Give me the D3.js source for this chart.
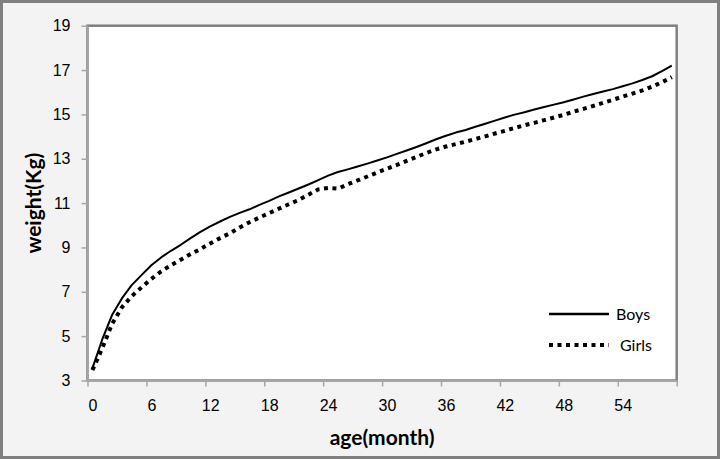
<!DOCTYPE html>
<html>
<head>
<meta charset="utf-8">
<script src="https://cdn.jsdelivr.net/npm/d3@7"></script>
<style>
  html, body { margin: 0; padding: 0; background: #fff; }
  svg { display: block; font-family: Lato, "Open Sans", sans-serif; }
  .axis text { font-size: 16px; fill: #000; }
  .title { font-size: 21px; font-weight: bold; }
  .legend text { font-size: 16px; }
</style>
</head>
<body>
<svg id="chart" width="720" height="459"></svg>
<script>
// months 0..59
const months = d3.range(0, 60);

const boys = [
  3.55, 4.85, 5.95, 6.70, 7.30, 7.75, 8.20, 8.55, 8.85, 9.12,
  9.42, 9.70, 9.95, 10.17, 10.38, 10.56, 10.72, 10.92, 11.10, 11.30,
  11.48, 11.66, 11.84, 12.04, 12.24, 12.40, 12.52, 12.65, 12.78, 12.92,
  13.06, 13.22, 13.37, 13.53, 13.70, 13.88, 14.04, 14.18, 14.30, 14.44,
  14.58, 14.72, 14.86, 14.99, 15.10, 15.22, 15.33, 15.44, 15.55, 15.67,
  15.80, 15.92, 16.03, 16.14, 16.27, 16.40, 16.55, 16.72, 16.95, 17.20
];

const girls = [
  3.47, 4.45, 5.55, 6.30, 6.80, 7.20, 7.58, 7.92, 8.20, 8.45,
  8.70, 8.93, 9.18, 9.42, 9.64, 9.90, 10.14, 10.35, 10.55, 10.75,
  10.95, 11.14, 11.38, 11.62, 11.68, 11.65, 11.85, 12.02, 12.20, 12.38,
  12.55, 12.72, 12.90, 13.08, 13.26, 13.42, 13.55, 13.66, 13.77, 13.89,
  14.01, 14.14, 14.26, 14.39, 14.51, 14.62, 14.74, 14.86, 14.98, 15.12,
  15.25, 15.38, 15.52, 15.66, 15.80, 15.94, 16.08, 16.25, 16.45, 16.68
];

const xLabels = [0, 6, 12, 18, 24, 30, 36, 42, 48, 54];
const xTickBounds = d3.range(0, 11).map(k => k * 6 - 0.5);
const yTicks = [3, 5, 7, 9, 11, 13, 15, 17, 19];

const svg = d3.select("#chart");
const W = 720, H = 459;
const plot = {left: 87.5, right: 676.7, top: 25.7, bottom: 380.5};

// frame
svg.append("rect")
  .attr("x", 1.5).attr("y", 1.5)
  .attr("width", W - 3).attr("height", H - 3)
  .attr("fill", "#f3f3f3")
  .attr("stroke", "#7f7f7f")
  .attr("stroke-width", 3);

// plot area
svg.append("rect")
  .attr("x", plot.left).attr("y", plot.top)
  .attr("width", plot.right - plot.left)
  .attr("height", plot.bottom - plot.top)
  .attr("fill", "#fff")
  .attr("stroke", "#808080")
  .attr("stroke-width", 2.5);

const x = d3.scaleLinear().domain([-0.5, 59.5]).range([plot.left, plot.right]);
const y = d3.scaleLinear().domain([3, 19]).range([plot.bottom, plot.top]);

// y axis
const yAxis = svg.append("g")
  .attr("class", "axis")
  .attr("transform", `translate(${plot.left},0)`)
  .call(d3.axisLeft(y).tickValues(yTicks).tickSizeOuter(0).tickSizeInner(6).tickPadding(11));
yAxis.select(".domain").attr("stroke", "#a6a6a6").attr("stroke-width", 2);
yAxis.selectAll(".tick line").attr("stroke", "#a6a6a6").attr("stroke-width", 1.5);

// x axis: tick marks between categories
const xAxis = svg.append("g")
  .attr("class", "axis")
  .attr("transform", `translate(0,${plot.bottom})`)
  .call(d3.axisBottom(x).tickValues(xTickBounds).tickFormat("").tickSizeOuter(0).tickSizeInner(6));
xAxis.select(".domain").attr("stroke", "#a6a6a6").attr("stroke-width", 2);
xAxis.selectAll(".tick line").attr("stroke", "#a6a6a6").attr("stroke-width", 1.5);

// x labels centered on categories
const xLab = svg.append("g")
  .attr("class", "axis")
  .attr("transform", `translate(0,${plot.bottom})`)
  .call(d3.axisBottom(x).tickValues(xLabels).tickSize(0).tickPadding(19));
xLab.select(".domain").remove();

// lines
const line = d3.line()
  .x((d, i) => x(months[i]))
  .y(d => y(d));

svg.append("path")
  .datum(boys)
  .attr("fill", "none")
  .attr("stroke", "#000")
  .attr("stroke-width", 2)
  .attr("stroke-linejoin", "round")
  .attr("d", line);

svg.append("path")
  .datum(girls)
  .attr("fill", "none")
  .attr("stroke", "#000")
  .attr("stroke-width", 4)
  .attr("stroke-dasharray", "4,4.5")
  .attr("d", line);

// legend
const legend = svg.append("g").attr("class", "legend");
const legendItems = [
  {name: "Boys", y: 314, dash: null, w: 2.5},
  {name: "Girls", y: 345, dash: "4,4.5", w: 4}
];
legendItems.forEach(d => {
  legend.append("line")
    .attr("x1", 549).attr("x2", 609)
    .attr("y1", d.y).attr("y2", d.y)
    .attr("stroke", "#000")
    .attr("stroke-width", d.w)
    .attr("stroke-dasharray", d.dash);
  legend.append("text")
    .attr("x", d.name === "Boys" ? 616 : 620)
    .attr("y", d.y)
    .attr("dy", "0.35em")
    .text(d.name);
});

// axis titles
svg.append("text")
  .attr("class", "title")
  .attr("x", (plot.left + plot.right) / 2)
  .attr("y", 445)
  .attr("text-anchor", "middle")
  .text("age(month)");

svg.append("text")
  .attr("class", "title")
  .attr("transform", `translate(41,${(plot.top + plot.bottom) / 2}) rotate(-90)`)
  .attr("text-anchor", "middle")
  .text("weight(Kg)");
</script>
</body>
</html>
